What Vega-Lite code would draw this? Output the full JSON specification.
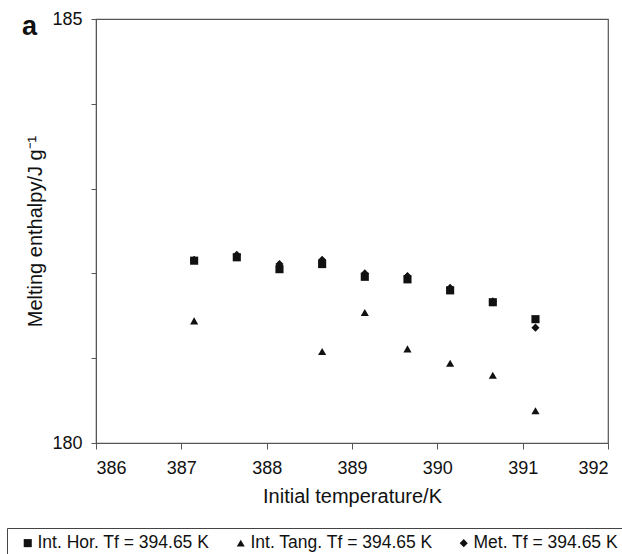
{
  "$schema": "https://vega.github.io/schema/vega-lite/v6.json",
  "autosize": {"type": "none"},
  "width": 512,
  "height": 424,
  "padding": {"left": 96, "top": 19, "right": 14, "bottom": 111},
  "background": "white",
  "title": {
    "text": "a",
    "anchor": "start",
    "frame": "group",
    "orient": "top",
    "offset": 0,
    "dx": -74,
    "dy": 52,
    "baseline": "alphabetic",
    "font": "Liberation Sans",
    "fontSize": 27,
    "fontWeight": "bold",
    "color": "#111"
  },
  "config": {
    "font": "Liberation Sans",
    "view": {"stroke": "#555", "strokeWidth": 1.2},
    "axis": {
      "grid": false,
      "domainColor": "#555",
      "tickColor": "#555",
      "labelColor": "#111",
      "titleColor": "#111",
      "labelFont": "Liberation Sans",
      "titleFont": "Liberation Sans",
      "titleFontWeight": "normal",
      "labelFontSize": 18,
      "titleFontSize": 20
    }
  },
  "data": {
    "values": [
      {"series": "Int. Hor. Tf = 394.65 K", "t": 387.15, "h": 182.15},
      {"series": "Int. Hor. Tf = 394.65 K", "t": 387.65, "h": 182.19},
      {"series": "Int. Hor. Tf = 394.65 K", "t": 388.15, "h": 182.05},
      {"series": "Int. Hor. Tf = 394.65 K", "t": 388.65, "h": 182.11},
      {"series": "Int. Hor. Tf = 394.65 K", "t": 389.15, "h": 181.96},
      {"series": "Int. Hor. Tf = 394.65 K", "t": 389.65, "h": 181.93},
      {"series": "Int. Hor. Tf = 394.65 K", "t": 390.15, "h": 181.80},
      {"series": "Int. Hor. Tf = 394.65 K", "t": 390.65, "h": 181.66},
      {"series": "Int. Hor. Tf = 394.65 K", "t": 391.15, "h": 181.46},
      {"series": "Int. Tang. Tf = 394.65 K", "t": 387.15, "h": 181.44},
      {"series": "Int. Tang. Tf = 394.65 K", "t": 388.65, "h": 181.08},
      {"series": "Int. Tang. Tf = 394.65 K", "t": 389.15, "h": 181.54},
      {"series": "Int. Tang. Tf = 394.65 K", "t": 389.65, "h": 181.11},
      {"series": "Int. Tang. Tf = 394.65 K", "t": 390.15, "h": 180.94},
      {"series": "Int. Tang. Tf = 394.65 K", "t": 390.65, "h": 180.80},
      {"series": "Int. Tang. Tf = 394.65 K", "t": 391.15, "h": 180.38},
      {"series": "Met. Tf = 394.65 K", "t": 387.15, "h": 182.16},
      {"series": "Met. Tf = 394.65 K", "t": 387.65, "h": 182.22},
      {"series": "Met. Tf = 394.65 K", "t": 388.15, "h": 182.11},
      {"series": "Met. Tf = 394.65 K", "t": 388.65, "h": 182.16},
      {"series": "Met. Tf = 394.65 K", "t": 389.15, "h": 182.00},
      {"series": "Met. Tf = 394.65 K", "t": 389.65, "h": 181.97},
      {"series": "Met. Tf = 394.65 K", "t": 390.15, "h": 181.83},
      {"series": "Met. Tf = 394.65 K", "t": 390.65, "h": 181.67},
      {"series": "Met. Tf = 394.65 K", "t": 391.15, "h": 181.36}
    ]
  },
  "mark": {"type": "point", "filled": true, "opacity": 1, "color": "#111", "size": 66},
  "encoding": {
    "x": {
      "field": "t",
      "type": "quantitative",
      "scale": {"domain": [386, 392], "zero": false, "nice": false},
      "axis": {
        "title": "Initial temperature/K",
        "values": [386, 387, 388, 389, 390, 391, 392],
        "format": "d",
        "tickSize": 6,
        "labelPadding": 10,
        "titlePadding": 9
      }
    },
    "y": {
      "field": "h",
      "type": "quantitative",
      "scale": {"domain": [180, 185], "zero": false, "nice": false},
      "axis": {
        "title": "Melting enthalpy/J g⁻¹",
        "values": [180, 181, 182, 183, 184, 185],
        "labelExpr": "datum.value == 180 || datum.value == 185 ? datum.label : ''",
        "tickSize": 5,
        "labelPadding": 9,
        "titlePadding": 6
      }
    },
    "shape": {
      "field": "series",
      "type": "nominal",
      "scale": {
        "domain": ["Int. Hor. Tf = 394.65 K", "Int. Tang. Tf = 394.65 K", "Met. Tf = 394.65 K"],
        "range": ["square", "triangle-up", "diamond"]
      },
      "legend": {
        "title": null,
        "orient": "none",
        "direction": "horizontal",
        "legendX": -89,
        "legendY": 509,
        "strokeColor": "#444",
        "padding": 6,
        "symbolOffset": 6,
        "symbolSize": 65,
        "symbolFillColor": "#111",
        "symbolStrokeWidth": 0,
        "labelFontSize": 17.5,
        "labelLimit": 0,
        "labelColor": "#111",
        "labelFont": "Liberation Sans",
        "labelOffset": 1,
        "columnPadding": 16
      }
    }
  }
}
